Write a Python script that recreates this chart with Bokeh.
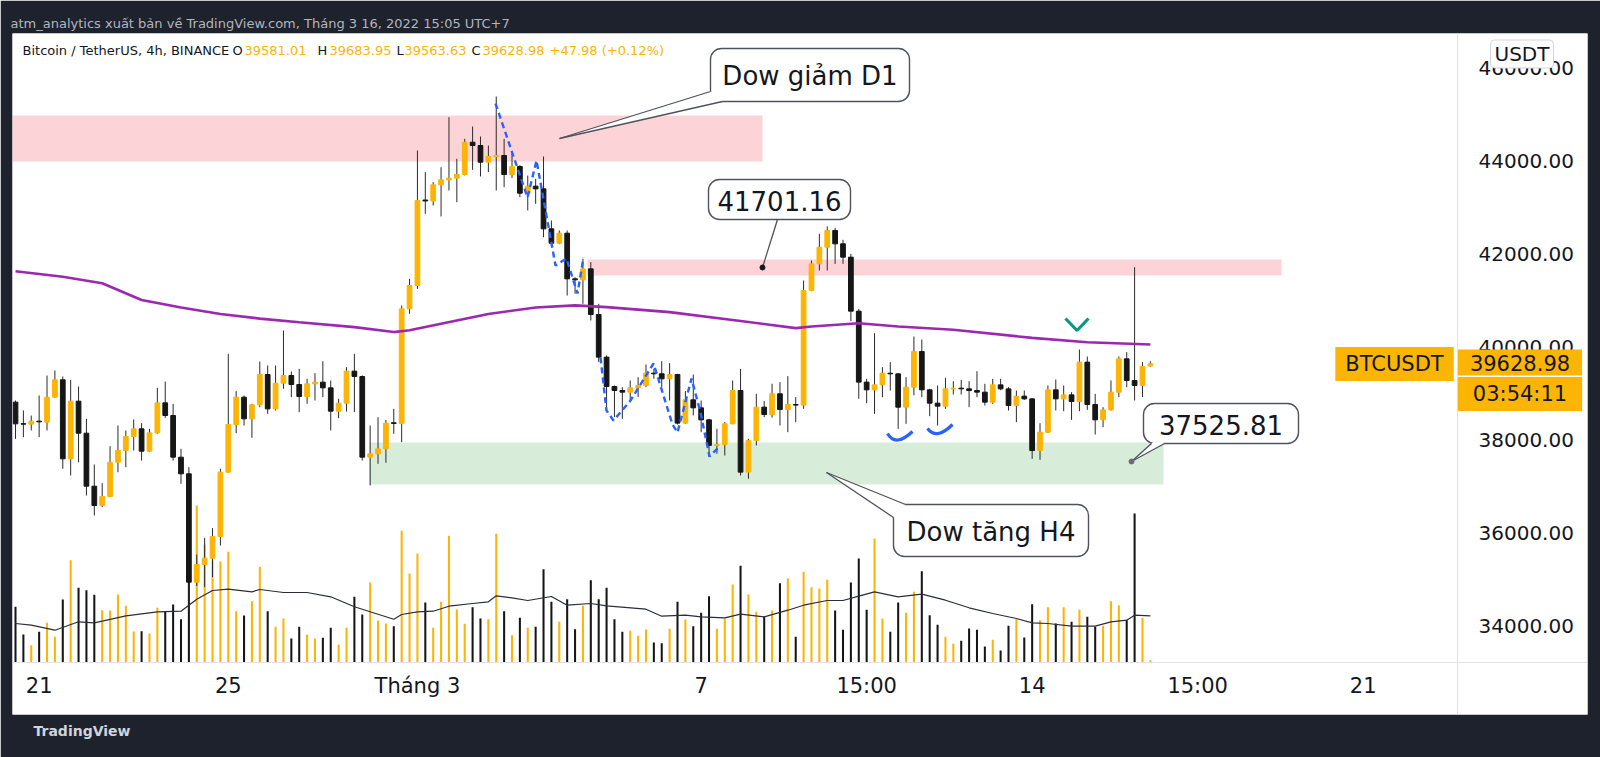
from bokeh.plotting import figure
from bokeh.models import Range1d, LinearAxis, FixedTicker, NumeralTickFormatter, Label, ColumnDataSource, Title
from bokeh.embed import file_html
from bokeh.resources import INLINE
from bokeh.core.properties import value

# ---------------- data (BTCUSDT 4h, Binance; index 0 = Feb 20 15:00 UTC+7) ----------------
opens = [38803, 38340, 38330, 38394, 38373, 38910, 39283, 37584, 38824, 38136,
         36996, 36581, 36774, 37512, 37763, 38064, 38229, 37749, 38143, 38788,
         38516, 37620, 37262, 34932, 35312, 35448, 35914, 37297, 38322, 38910,
         38444, 38745, 39398, 38659, 39211, 39376, 39183, 38925, 39197, 39233,
         39111, 38609, 38781, 39470, 39355, 37620, 37692, 37799, 38360, 38345,
         40810, 41312, 43150, 43130, 43476, 43584, 43620, 43699, 44394, 44322,
         43964, 44086, 44108, 43699, 43871, 43297, 43448, 43390, 42530, 42222,
         42437, 41455, 41434, 41670, 40689, 39771, 39140, 39054, 39018, 39112,
         39162, 39427, 39413, 39305, 39398, 38352, 38853, 38681, 38423, 37872,
         37890, 38337, 39054, 37298, 37979, 38696, 38538, 38983, 38646, 38753,
         38740, 41205, 41778, 42136, 42495, 42208, 41921, 40760, 39234, 39068,
         39175, 39426, 39412, 38695, 39125, 39892, 39068, 38781, 38717, 39089,
         39104, 39090, 39053, 39018, 38803, 39175, 39089, 38731, 38932, 38874,
         37763, 38157, 39068, 38874, 38960, 38817, 39663, 38753, 38423, 38638,
         39018, 39735, 39269, 39161, 39581.01]
highs = [38839, 38624, 38516, 38946, 39376, 39484, 39355, 39283, 39140, 38444,
         37462, 37061, 37857, 38301, 38194, 38430, 38351, 38229, 39111, 39247,
         38767, 37799, 37405, 35527, 35885, 36093, 37369, 39842, 39039, 38946,
         38767, 39677, 39591, 39591, 40344, 39462, 39520, 39305, 39427, 39684,
         39269, 38875, 39556, 39842, 39377, 38301, 38480, 38420, 38660, 40882,
         41455, 44215, 43749, 43534, 43856, 44932, 44036, 44466, 44731, 44516,
         44322, 45376, 44466, 44179, 43900, 43677, 43605, 44086, 42710, 42495,
         42495, 41490, 41886, 41814, 40918, 39807, 39162, 39126, 39269, 39341,
         39613, 39520, 39685, 39642, 39412, 39040, 39398, 38839, 38445, 38230,
         38373, 39269, 39520, 38015, 38983, 38825, 39198, 39234, 39362, 38911,
         41420, 41850, 42423, 42581, 42552, 42294, 41993, 40810, 39304, 40286,
         39555, 39663, 39426, 39340, 40215, 40150, 39089, 39161, 39326, 39254,
         39283, 39254, 39469, 39197, 39304, 39304, 39125, 39053, 39053, 38888,
         38351, 39161, 39290, 39161, 39018, 39935, 39785, 38982, 38695, 39269,
         39785, 39878, 41706, 39664, 39683.95]
lows = [38014, 38050, 38194, 38050, 38194, 38900, 37369, 37226, 37512, 36796,
        36366, 36545, 36760, 37297, 37405, 37763, 37548, 37728, 38122, 38466,
        37548, 37047, 34322, 34850, 34825, 35040, 35720, 37290, 38136, 38301,
        38036, 38695, 38552, 38624, 39090, 38910, 38588, 38767, 38839, 38911,
        38194, 38459, 38600, 38588, 37548, 37011, 37477, 37500, 38122, 37943,
        40702, 41240, 42853, 43032, 42796, 43355, 43104, 43680, 43799, 43656,
        43749, 43355, 43426, 43627, 43211, 42925, 43068, 42351, 42172, 42200,
        41097, 41133, 40918, 40560, 39664, 38696, 38481, 38445, 38803, 38911,
        39126, 39305, 39126, 38839, 38323, 38337, 38517, 38158, 37621, 37692,
        37656, 38330, 37226, 37155, 37872, 38481, 38470, 38302, 38158, 38373,
        38660, 41190, 41635, 41635, 41778, 41778, 40545, 38875, 38781, 38552,
        38910, 39053, 38229, 38337, 38950, 38910, 38501, 38301, 38659, 38967,
        38967, 38695, 38910, 38731, 38767, 39060, 38623, 38372, 38853, 37584,
        37563, 38140, 38623, 38609, 38423, 38609, 38638, 38107, 38265, 38620,
        38910, 39125, 38839, 38911, 39563.63]
closes = [38337, 38330, 38394, 38380, 38910, 39283, 37584, 38824, 38136, 36996,
          36581, 36774, 37512, 37763, 38064, 38229, 37749, 38143, 38788, 38516,
          37620, 37262, 34932, 35312, 35448, 35914, 37297, 38322, 38910, 38444,
          38745, 39398, 38659, 39211, 39376, 39183, 38925, 39197, 39233, 39111,
          38609, 38781, 39470, 39355, 37620, 37692, 37799, 38351, 38345, 40810,
          41312, 43140, 43130, 43476, 43584, 43620, 43699, 44394, 44322, 43964,
          44086, 44108, 43699, 43871, 43297, 43448, 43390, 42530, 42222, 42437,
          41455, 41434, 41670, 40689, 39771, 39140, 39054, 39018, 39112, 39162,
          39427, 39413, 39305, 39398, 38352, 38853, 38681, 38423, 37872, 37890,
          38337, 39054, 37298, 37979, 38696, 38538, 38983, 38646, 38753, 38740,
          41205, 41778, 42136, 42495, 42208, 41921, 40760, 39234, 39068, 39175,
          39426, 39412, 38695, 39125, 39892, 39068, 38781, 38717, 39089, 39104,
          39090, 39053, 39018, 38803, 39175, 39089, 38731, 38932, 38874, 37763,
          38157, 39068, 38874, 38960, 38817, 39663, 38753, 38423, 38638, 39018,
          39735, 39269, 39161, 39571, 39628.98]
volumes = [5570, 2800, 1730, 3070, 3970, 2570, 6300, 10230, 7470, 7230,
           6770, 5230, 5200, 6800, 5670, 3100, 3130, 2900, 5470, 5070,
           5800, 4330, 13000, 15700, 11800, 10200, 10100, 11070, 5130, 4700,
           6130, 9570, 5130, 3570, 4400, 2400, 3570, 2800, 2400, 2470,
           3470, 1800, 3470, 6570, 4800, 8000, 4200, 3900, 3630, 13170,
           8900, 10900, 6000, 3470, 6070, 12670, 5300, 3870, 5530, 4400,
           4330, 12870, 5130, 2730, 4470, 3470, 3570, 9330, 6070, 4070,
           6330, 3330, 5670, 8230, 6330, 7470, 4330, 3070, 3170, 2670,
           3300, 2000, 1930, 3370, 6070, 4300, 3630, 4970, 6630, 3370,
           4400, 7800, 9670, 6800, 5070, 4570, 5200, 7930, 8400, 2570,
           9070, 7530, 7400, 8270, 5200, 3270, 8000, 10400, 5270, 12400,
           4400, 3070, 6000, 4970, 7070, 9130, 4730, 3770, 2570, 1870,
           2170, 3400, 3270, 1600, 2270, 1200, 3670, 4330, 2500, 5830,
           4230, 5530, 3900, 5530, 4070, 5270, 4570, 3570, 3670, 6130,
           5730, 4230, 14900, 4470, 230]

# moving average of price (purple) read at some bars
ma_idx = [0, 6, 11, 16, 21, 26, 31, 36, 43, 48, 50, 54, 60, 66, 71, 75, 83, 92, 99, 101, 107, 112, 119, 129, 136, 144]
ma_vals = [41620, 41500, 41360, 41000, 40840, 40700, 40600, 40520, 40416, 40310, 40350, 40490, 40700, 40840,
           40885, 40846, 40739, 40550, 40395, 40430, 40500, 40430, 40360, 40186, 40093, 40043]
# moving average of volume (black line) read at some bars
vma_idx = [0, 2, 5, 8, 10, 14, 18, 21, 23, 25, 27, 30, 31, 34, 37, 40, 43, 45, 48, 49, 51, 53, 55, 58, 60,
           61, 63, 65, 68, 70, 73, 75, 80, 82, 85, 87, 90, 92, 95, 98, 100, 103, 105, 107, 109, 112, 115,
           118, 121, 124, 127, 129, 131, 134, 137, 139, 141, 142, 144]
vma_vals = [3900, 3730, 3230, 4070, 3970, 4670, 5070, 5130, 6330, 7200, 7330, 7070, 7300, 7000, 7000, 6570,
            5570, 5070, 4330, 4800, 5070, 5130, 5630, 5900, 6070, 6670, 6470, 6200, 6600, 5730, 5900, 5670,
            5330, 4630, 4730, 4570, 4470, 4830, 4570, 5230, 5730, 6200, 6200, 6630, 7070, 6570, 6830, 6230,
            5470, 4900, 4400, 3970, 3900, 3630, 3630, 4070, 4230, 4730, 4670]

y_ticks = [34000, 36000, 38000, 40000, 42000, 44000, 46000]
x_tick_pos = [3, 27, 51, 87, 108, 129, 150, 171]
x_tick_labels = ["21", "25", "Tháng 3", "7", "15:00", "14", "15:00", "21"]

# drawn zones (price ranges)
zone_low = [43980, 41527, 37032]
zone_high = [44970, 41871, 37935]
zone_colors = ["#f23645", "#f23645", "#4caf50"]

# ---------------- style ----------------
UP = "#fcb405"
DOWN = "#161616"
DARK = "#1e222d"
FONT = "DejaVu Sans"

# pixel <-> data helpers for hand drawings (reference pixel geometry)
BAR_PX = 7.881
BAR0_PX = 15.0
def bx(px):
    return (px - BAR0_PX) / BAR_PX
def py(pxv):
    return 44000 - (pxv - 160) / 0.0465

# white panel (chart + price scale + time scale) spans x 12..1587, y 33..714
X0, X1 = bx(12), bx(1587)
Y0, Y1 = py(714), py(33)

p = figure(width=1600, height=757, output_backend="svg", toolbar_location=None,
           x_range=Range1d(X0, X1), y_range=Range1d(Y0, Y1),
           x_axis_location=None, y_axis_location=None,
           min_border_left=12, min_border_right=13, min_border_top=33, min_border_bottom=43,
           background_fill_color="white", border_fill_color=DARK, outline_line_color=None)
p.grid.visible = False
# volume scale: 0 sits on the time-scale line (y=662)
p.extra_y_ranges = {"vol": Range1d(-5200, 62900)}

# header text in the dark band
p.title.text = "atm_analytics xuất bản về TradingView.com, Tháng 3 16, 2022 15:05 UTC+7"
p.title.align = "left"
p.title.offset = -2
p.title.text_font = FONT
p.title.text_font_size = "13px"
p.title.text_font_style = "normal"
p.title.text_color = "#b2b5be"
p.title.standoff = 6

p.add_layout(Title(text="TradingView", align="left", offset=21, text_font=FONT, text_font_size="14px",
                   text_font_style="bold", text_color="#d1d4dc", standoff=13), "below")

# axes (price scale and time scale drawn inside the white panel)
yax = LinearAxis(ticker=FixedTicker(ticks=y_ticks), formatter=NumeralTickFormatter(format="0.00"),
                 fixed_location=bx(1457))
yax.major_label_text_font = FONT
yax.major_label_text_font_size = "20px"
yax.major_label_text_color = "#131722"
yax.major_tick_line_color = None
yax.minor_tick_line_color = None
yax.axis_line_color = "#e0e3eb"
yax.major_label_standoff = 15
p.add_layout(yax, "right")

xax = LinearAxis(ticker=FixedTicker(ticks=x_tick_pos),
                 major_label_overrides={pos: lab for pos, lab in zip(x_tick_pos, x_tick_labels)},
                 fixed_location=py(662))
xax.major_label_text_font = FONT
xax.major_label_text_font_size = "21px"
xax.major_label_text_color = "#131722"
xax.major_tick_line_color = None
xax.minor_tick_line_color = None
xax.axis_line_color = "#e0e3eb"
xax.major_label_standoff = 5
p.add_layout(xax, "below")

# zones
zone_left = [bx(12) - 1, bx(587), bx(369)]
zone_right = [bx(762), bx(1281), bx(1163)]
p.quad(left=zone_left, right=zone_right, bottom=zone_low, top=zone_high,
       fill_color=zone_colors, fill_alpha=0.22, line_color=None)

# candles + volume
idx = list(range(len(opens)))
colors = [UP if c >= o else DOWN for o, c in zip(opens, closes)]
src = ColumnDataSource(dict(x=idx, o=opens, h=highs, l=lows, c=closes, v=volumes, col=colors,
                            top=[max(o, c) for o, c in zip(opens, closes)],
                            bot=[min(o, c) for o, c in zip(opens, closes)]))

p.vbar(x="x", width=0.26, top="v", bottom=0, fill_color="col", line_color=None,
       source=src, y_range_name="vol")
p.line(vma_idx, vma_vals, line_color="#2a2e39", line_width=1.2, y_range_name="vol")

p.segment(x0="x", y0="l", x1="x", y1="h", line_color="#2b2b2b", line_width=1, source=src)
p.vbar(x="x", width=0.6, top="top", bottom="bot", fill_color="col", line_color="col",
       line_width=1, source=src)

p.line(ma_idx, ma_vals, line_color="#9c27b0", line_width=2.6)

# blue dashed zigzags
zig_a = [(495, 103), (527, 197), (536, 160), (555, 265), (566, 258), (577, 293), (583, 257)]
zig_b = [(600, 357), (606, 410), (613, 420), (630, 400), (653, 363), (672, 424), (677, 432),
         (691, 378), (700, 412), (709, 456), (718, 447)]
p.multi_line(xs=[[bx(a) for a, _ in z] for z in (zig_a, zig_b)],
             ys=[[py(b) for _, b in z] for z in (zig_a, zig_b)],
             line_color="#2962ff", line_width=2.4, line_dash="6 4")
# blue arcs
p.quadratic(x0=[bx(887), bx(927)], y0=[py(433), py(428)], x1=[bx(912), bx(952)], y1=[py(431), py(424)],
            cx=[bx(895), bx(936)], cy=[py(447), py(440)], line_color="#2962ff", line_width=3.2)
# teal check
p.line([bx(1065), bx(1076.5), bx(1088)], [py(318), py(330), py(318)], line_color="#089981", line_width=3.2)

# callouts
BORDER = "#50535e"
boxes = [  # l, t, r, b in reference px
    (710, 48, 909, 101),
    (708, 179, 850, 219),
    (1143, 403, 1298, 443),
    (893, 504, 1088, 556),
]
box_texts = ["Dow giảm D1", "41701.16", "37525.81", "Dow tăng H4"]
p.quad(left=[bx(b[0]) for b in boxes], right=[bx(b[2]) for b in boxes],
       top=[py(b[1]) for b in boxes], bottom=[py(b[3]) for b in boxes],
       fill_color="white", line_color=BORDER, line_width=1.4, border_radius=11)
wedges = [
    [(559, 138), (710, 91), (722, 93), (722, 101)],
    [(1131, 461), (1151, 443), (1157, 437), (1164, 443)],
    [(826, 472), (893, 517), (901, 512), (905, 504)],
]
p.patches(xs=[[bx(a) for a, _ in w] for w in wedges], ys=[[py(b) for _, b in w] for w in wedges],
          fill_color="white", line_color=None)
tail_xs, tail_ys = [], []
for w in wedges:
    tail_xs += [[bx(w[0][0]), bx(w[1][0])], [bx(w[0][0]), bx(w[3][0])]]
    tail_ys += [[py(w[0][1]), py(w[1][1])], [py(w[0][1]), py(w[3][1])]]
tail_xs.append([bx(777), bx(762)])
tail_ys.append([py(219), py(267)])
p.multi_line(xs=tail_xs, ys=tail_ys, line_color=BORDER, line_width=1.3)
p.scatter(x=[bx(762), bx(1131)], y=[py(267), py(461)], size=5, color=["#131722", "#6a6d78"])

p.text(x=[bx((b[0] + b[2]) / 2) for b in boxes], y=[py((b[1] + b[3]) / 2 + 1) for b in boxes],
       text=box_texts, text_font=value(FONT), text_font_size=value("26px"),
       text_color="#131722", text_align="center", text_baseline="middle")

# legend line (top-left of chart)
legend_parts = [("Bitcoin / TetherUS, 4h, BINANCE", 22, "#131722"), ("O", 232, "#131722"),
                ("39581.01", 244, UP), ("H", 317, "#131722"), ("39683.95", 329, UP),
                ("L", 396, "#131722"), ("39563.63", 404, UP), ("C", 471, "#131722"),
                ("39628.98", 482, UP), ("+47.98 (+0.12%)", 549, UP)]
for txt, xp, col in legend_parts:
    p.add_layout(Label(x=bx(xp), y=py(50), text=txt, text_font=FONT, text_font_size="13px",
                       text_color=col, text_align="left", text_baseline="middle"))

# price tags (padding = (horizontal, vertical))
p.add_layout(Label(x=bx(1394), y=py(363.5), text="BTCUSDT", text_font=FONT, text_font_size="21px",
                   text_color="#131722", text_align="center", text_baseline="middle",
                   background_fill_color=UP, padding=(10, 5)))
p.add_layout(Label(x=bx(1519.5), y=py(362), text="39628.98", text_font=FONT, text_font_size="21px",
                   text_color="#131722", text_align="center", text_baseline="middle",
                   background_fill_color=UP, padding=(12, 5)))
p.add_layout(Label(x=bx(1519.5), y=py(393.5), text="03:54:11", text_font=FONT, text_font_size="21px",
                   text_color="#131722", text_align="center", text_baseline="middle",
                   background_fill_color=UP, padding=(15, 5)))
p.add_layout(Label(x=bx(1521.5), y=py(53.5), text="USDT", text_font=FONT, text_font_size="20px",
                   text_color="#131722", text_align="center", text_baseline="middle",
                   background_fill_color="white", border_line_color="#d1d4dc", border_line_width=1,
                   border_radius=4, padding=(4, 2)))

open("out.html", "w").write(file_html(p, INLINE))
